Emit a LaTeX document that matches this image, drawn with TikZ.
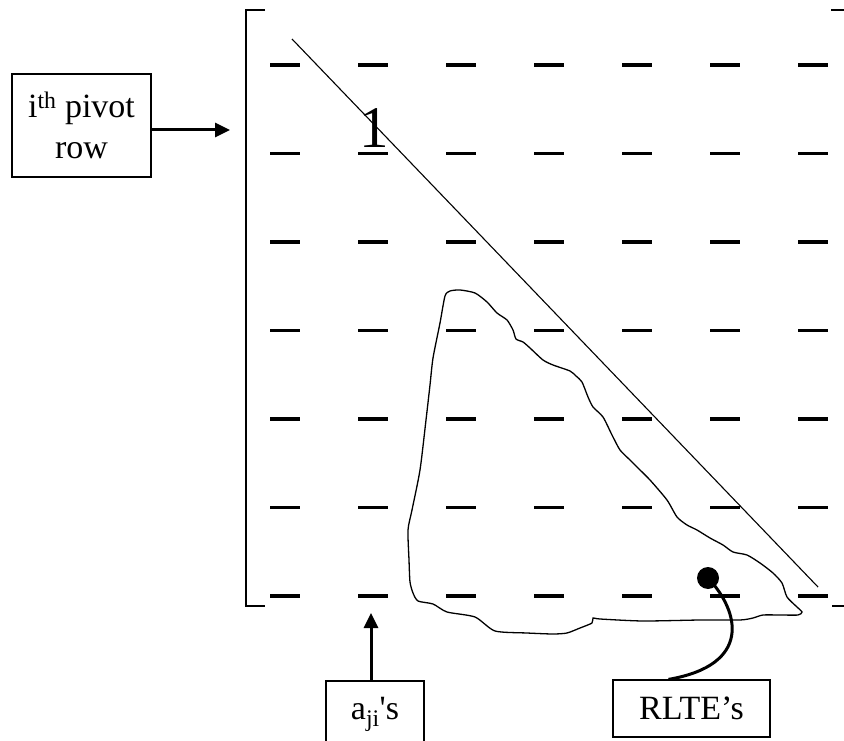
\documentclass[tikz,border=0pt]{standalone}
\usepackage{fontspec}
\setmainfont{Liberation Serif}
\usepackage{tikz}
\usetikzlibrary{arrows.meta, positioning, calc}
\tikzstyle{arrow} = [line width=3pt, -{Triangle[length=15pt,width=14pt]}]
\tikzstyle{labelbox} = [rectangle, draw, line width=1.2pt, align=center, inner sep=0pt]
\tikzstyle{dashmark} = [line width=3.3pt]

\begin{document}
\begin{tikzpicture}[x=1pt, y=-1pt, every node/.style={font=\fontsize{34}{41}\selectfont}]
    \useasboundingbox (0,0) rectangle (844,741);

    % Matrix brackets
    \draw [line width=2.5pt] (265,10) -- (246,10) -- (246,606) -- (265,606);
    \draw [line width=2.5pt] (831,10) -- (850,10);
    \draw [line width=2.5pt] (832,606) -- (850,606);

    % Matrix entries
    \foreach \r in {0,...,6}
        \foreach \c in {0,...,6}
            \draw [dashmark] ({270+88*\c},{65+88.5*\r}) -- ++(30,0);

    % Diagonal and the unit pivot
    \draw [line width=1.1pt] (292,39) -- (818,587);
    \node (one) at (374,128) {\fontsize{59}{62}\selectfont 1};

    % Region below the diagonal
    \draw [line width=1.3pt] plot [smooth cycle, tension=0.4] coordinates {
        (445,296) (450,291) (460,290) (475,293) (487,302) (497,313) (507,320)
        (513,330) (516,339) (523,342) (530,348) (543,360) (553,365) (570,371)
        (576,376) (582,382) (588,397) (593,407) (603,417) (612,435) (620,450)
        (630,460) (638,468) (650,480) (667,500) (677,517) (687,525) (697,530)
        (710,538) (723,545) (733,552) (747,555) (760,563) (773,573) (782,583)
        (787,597) (797,607) (802,612) (798,615) (780,615) (763,615) (753,618)
        (740,620) (700,620) (643,621) (600,619) (593,618) (592,623) (580,628)
        (567,633) (553,634) (527,633) (495,631) (475,617) (447,612) (433,604)
        (418,601) (413,593) (410,582) (409,560) (408,530) (412,510) (420,470)
        (426,420) (430,385) (433,358) (440,323)};

    % Label boxes
    \node (pivot) [labelbox, minimum width=139pt, minimum height=103pt] at (81.5,125.5)
        {i\textsuperscript{th} pivot\\row};
    \node (aji) [labelbox, minimum width=98pt, minimum height=66pt] at (375,714)
        {a\textsubscript{ji}\textquotesingle s};
    \node (rlte) [labelbox, minimum width=157pt, minimum height=57pt] at (691.5,708.5)
        {RLTE’s};

    % Marker inside the region
    \node (rltedot) [circle, fill, inner sep=0pt, minimum size=22pt] at (708,578) {};

    % Arrows
    \coordinate (pivottip) at (230,130);
    \coordinate (ajitip) at (371,613);
    \draw [arrow] (pivot.east |- pivottip) -- (pivottip);
    \draw [arrow] (aji.north -| ajitip) -- (ajitip);
    \draw [line width=3pt] (rltedot.center) .. controls (740,612) and (752,665) .. ([xshift=-23pt]rlte.north);
\end{tikzpicture}
\end{document}
